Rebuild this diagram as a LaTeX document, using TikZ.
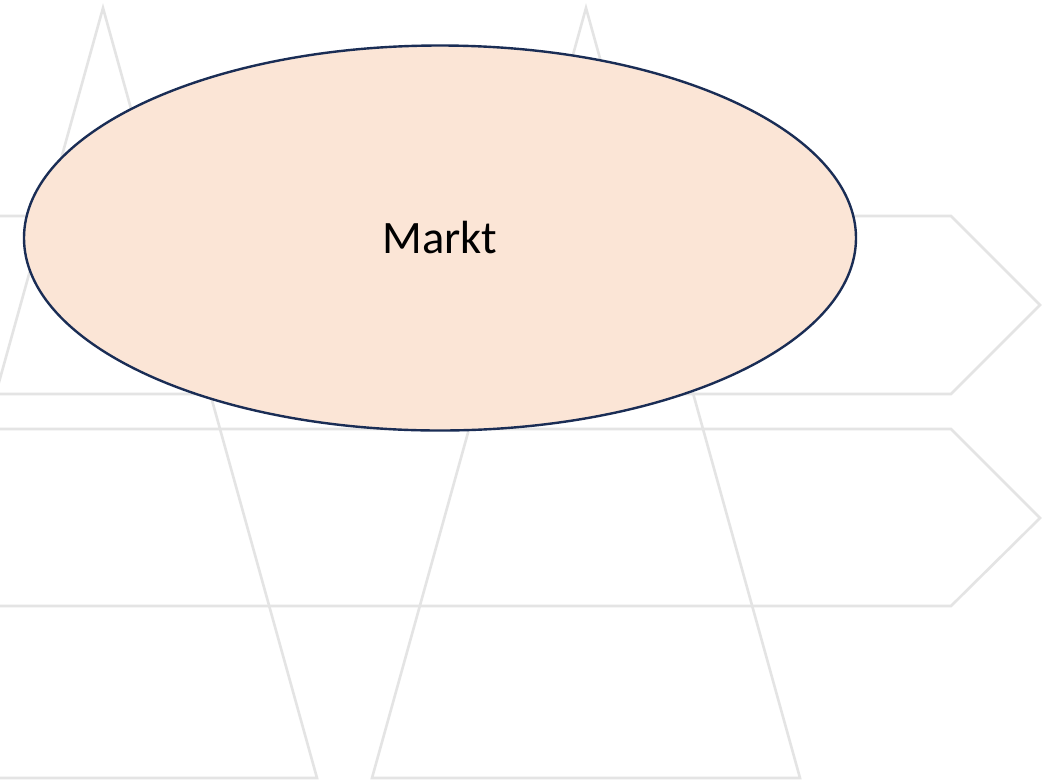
\documentclass[tikz,border=0pt]{standalone}
\usepackage{fontspec}
\setmainfont{Carlito}
\usetikzlibrary{shapes.geometric}
\definecolor{gridgray}{HTML}{E4E4E4}
\definecolor{ellfill}{HTML}{FBE5D6}
\definecolor{elldraw}{HTML}{1A2D55}
\tikzset{
  bgshape/.style={draw=gridgray, line width=2.6pt, line join=miter},
  marktnode/.style={ellipse, draw=elldraw, fill=ellfill, line width=2.4pt,
    minimum width=832pt, minimum height=385pt, inner sep=0pt,
    font=\fontsize{46.5}{56}\selectfont, text=black}
}
\begin{document}
\begin{tikzpicture}[x=1pt,y=-1pt]
\useasboundingbox (0,0) rectangle (1049,780);
\fill[white] (0,0) rectangle (1049,780);
\begin{scope}
\clip (0,0) rectangle (1049,780);
% triangles
\draw[bgshape] (103,8) -- (317,778) -- (-111,778) -- cycle;
\draw[bgshape] (586,8) -- (800,778) -- (372,778) -- cycle;
% chevrons
\draw[bgshape] (-20,216) -- (951,216) -- (1040,305) -- (951,394) -- (-20,394) -- cycle;
\draw[bgshape] (-20,429) -- (951,429) -- (1040,518) -- (951,606) -- (-20,606) -- cycle;
\end{scope}
\node[marktnode] (markt) at (440,238) {\raisebox{-2pt}{Markt}};
\end{tikzpicture}
\end{document}
